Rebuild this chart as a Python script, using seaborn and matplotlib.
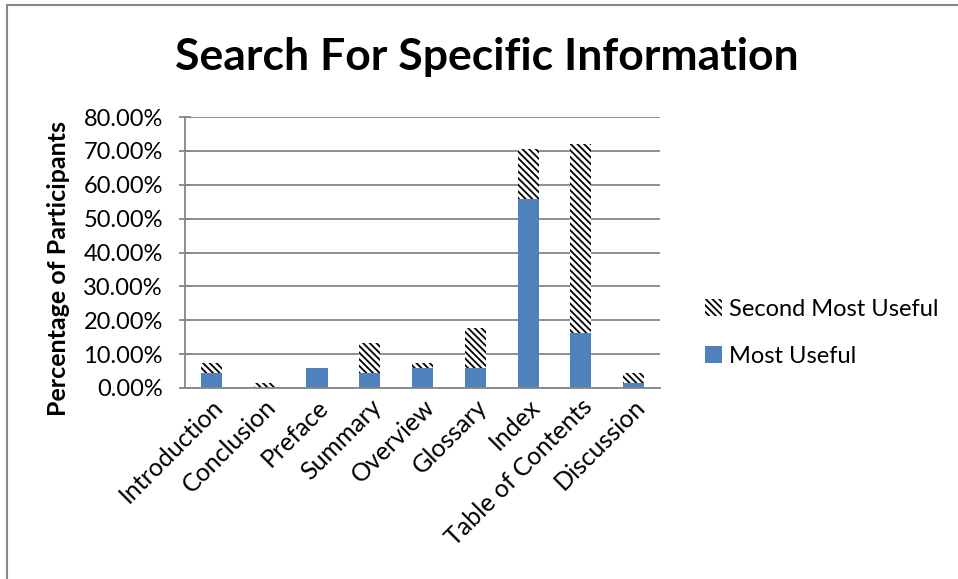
import numpy as np
import pandas as pd
import matplotlib
matplotlib.use("Agg")
import matplotlib.pyplot as plt
from matplotlib.patches import Patch
import seaborn as sns

# data (percent of participants)
categories = ["Introduction", "Conclusion", "Preface", "Summary", "Overview",
              "Glossary", "Index", "Table of Contents", "Discussion"]
most_useful = [4.41, 0.0, 5.88, 4.41, 5.88, 5.88, 55.88, 16.18, 1.47]
second_useful = [2.94, 1.47, 0.0, 8.82, 1.47, 11.76, 14.71, 55.88, 2.94]
y_ticks = [0, 10, 20, 30, 40, 50, 60, 70, 80]

df = pd.DataFrame({"section": categories, "most": most_useful, "second": second_useful})
df["total"] = df["most"] + df["second"]

sns.set_style("white")
plt.rcParams["font.family"] = ["Lato", "DejaVu Sans"]
plt.rcParams["hatch.linewidth"] = 1.3
plt.rcParams["hatch.color"] = "black"
for key in ["text.color", "axes.labelcolor", "xtick.labelcolor", "ytick.labelcolor"]:
    plt.rcParams[key] = "black"

blue = "#4F81BD"
grid_grey = "#868686"
hatch = "\\\\\\\\\\"

fig = plt.figure(figsize=(9.58, 5.79), dpi=100)
ax = fig.add_axes([185 / 958, 1 - 388 / 579, (660 - 185) / 958, (388 - 117) / 579])

# stacked look: hatched total behind, solid "most useful" in front
sns.barplot(data=df, x="section", y="total", ax=ax, color="white", width=0.4,
            saturation=1, hatch=hatch, edgecolor="black", linewidth=0)
sns.barplot(data=df, x="section", y="most", ax=ax, color=blue, width=0.4,
            saturation=1, linewidth=0)

ax.set_ylim(0, 80)
ax.set_xlim(-0.5, len(categories) - 0.5)
ax.set_yticks(y_ticks)
ax.set_yticklabels([f"{v:.2f}%" for v in y_ticks], fontsize=17)
ax.yaxis.grid(True, color=grid_grey, linewidth=1.3)
ax.set_axisbelow(True)

ax.set_xticks(range(len(categories)))
ax.set_xticklabels(categories, fontsize=18, rotation=45, ha="right",
                   rotation_mode="anchor")
ax.set_xticks(np.arange(-0.5, len(categories)), minor=True)
ax.tick_params(axis="x", which="major", length=0, pad=5)
ax.tick_params(axis="x", which="minor", length=7, width=1.3, color=grid_grey,
               direction="out")
ax.tick_params(axis="y", length=8, width=1.3, color=grid_grey, direction="inout",
               pad=12, left=True)

for side in ["top", "right"]:
    ax.spines[side].set_visible(False)
for side in ["left", "bottom"]:
    ax.spines[side].set_color(grid_grey)
    ax.spines[side].set_linewidth(1.3)

ax.set_xlabel("")
ax.set_ylabel("Percentage of Participants", fontsize=18, fontweight="bold")
ax.yaxis.set_label_coords((70 - 185) / 475, (388 - 268) / 271)

fig.text(487 / 958, 1 - 57 / 579, "Search For Specific Information",
         ha="center", va="center", fontsize=32, fontweight="bold")

handles = [Patch(facecolor="white", edgecolor="black", hatch=hatch, linewidth=0,
                 label="Second Most Useful"),
           Patch(facecolor=blue, linewidth=0, label="Most Useful")]
fig.legend(handles=handles, loc="center left", bbox_to_anchor=(684 / 958, 1 - 333 / 579),
           frameon=False, fontsize=17, handlelength=0.7, handleheight=0.7,
           handletextpad=0.3, labelspacing=1.1)

# outer chart border
fig.add_artist(plt.Line2D([7 / 958, 7 / 958], [0, 1 - 5 / 579], transform=fig.transFigure,
                          color=grid_grey, linewidth=1.5))
fig.add_artist(plt.Line2D([7 / 958, 1], [1 - 5 / 579, 1 - 5 / 579], transform=fig.transFigure,
                          color=grid_grey, linewidth=1.5))

fig.savefig("out.png", dpi=100)
